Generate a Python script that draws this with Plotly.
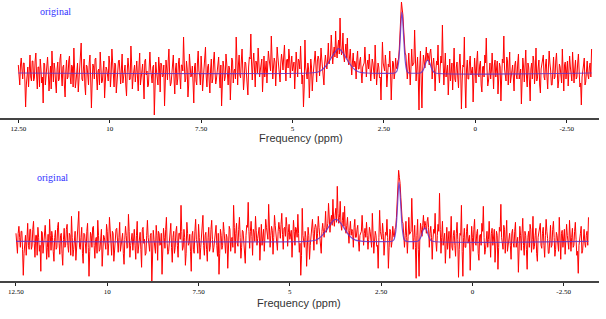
import plotly.graph_objects as go

# ---- data (values in display units) ----
ppm_start = 12.5
ppm_step = 0.02

spectrum = [
    8, -6, -12, 8, 15, 4, -6, 10, 10, -8, -34, -12, 5, 6, -14, 2, 18, -4, -8, 12,
    12, -8, -5, 12, 20, -2, -16, 6, 6, -14, 14, 4, -10, -4, -30, 10, 9, -12, -3, 8,
    16, 2, -18, -6, 7, -16, 22, 6, -9, 10, 4, -10, -20, 4, 11, -8, -6, 14, 19, -2,
    -13, 6, 8, -12, -24, 2, 13, -6, -4, 12, 17, -4, -11, 8, 6, -14, 25, 4, -15, -8,
    3, 10, -19, -4, 10, 12, 30, -6, -8, 4, 14, -12, -22, 8, 7, -2, -12, 10, 18, -6,
    -35, -10, 9, 6, -6, 14, 15, -4, -17, 2, 4, -12, 21, 6, -10, -8, 12, 12, -25, -2,
    6, 4, -8, -8, 17, 10, -14, -2, 24, 6, -5, -14, 10, 8, -20, -4, 3, 12, 13, -6,
    -11, 4, 19, -10, -3, 8, 8, -12, -23, 2, 15, 6, -7, -6, 27, 10, -16, -4, 5, 8,
    -9, 10, 12, -4, -18, 6, 20, -12, -4, 4, 9, -8, -26, 12, 14, -2, 2, -14, -12, 6,
    21, 4, -10, -10, 6, 8, -42, -6, 11, 2, -5, -12, 16, 6, -19, 10, 8, -4, -3, 8,
    -33, -8, 13, 4, -7, 12, 24, -2, -13, -10, 4, 6, 18, -6, -21, 4, 10, -12, -6, 10,
    15, -4, -16, 8, 8, 2, 36, 10, -9, -6, 12, 4, -24, -12, 19, 8, -4, -2, 7, -10,
    -30, 6, 10, -8, -12, 10, 22, 2, -2, -12, 17, 4, -18, -6, 6, 10, 26, -4, -14, 6,
    9, -8, -20, 4, 14, -10, -6, 12, 21, 2, -11, -6, 3, 10, 16, -4, -15, 8, -33, -12,
    12, 6, -8, -4, 19, 10, -3, -12, 7, 4, -27, -8, 15, 12, -10, 2, 4, -6, 36, 14,
    -12, 8, 18, -2, -5, 12, 24, 4, -17, -6, 11, 10, 2, -8, -22, 6, 16, 14, 39, 10,
    -7, 10, 20, 5, -14, 12, 9, 0, 25, 11, -4, 3, 13, 14, -19, 6, 17, -4, 6, 12,
    -10, 8, 22, 14, 4, 2, 37, 15, -6, 6, 15, 11, -13, 4, 26, 16, 8, 0, -9, 10,
    19, 12, 3, 17, 28, 7, -8, 13, 14, 5, 24, 15, -5, 9, 17, 2, 9, 11, -16, 6,
    21, 10, -4, 14, 12, 4, 27, 8, -11, -2, -34, -14, 33, 6, -6, -6, 10, 4, -25, -10,
    14, 6, -18, -4, 8, 10, 22, 8, -9, 12, 17, 14, -3, 8, 25, 14, 6, 4, -12, 10,
    18, 10, 4, 14, 30, 9, 12, 18, 38, 13, 9, 20, 26, 16, 42, 22, 15, 26, 33, 19,
    55, 28, 18, 24, 40, 17, 11, 21, 29, 15, 35, 12, 8, 16, 24, 9, -2, 11, 20, 6,
    12, 10, -6, 14, 22, 4, 4, 12, 16, 0, -10, 6, 9, 10, 26, 2, -4, 8, 13, 4,
    19, 6, -8, 2, 14, 10, 3, -6, 28, 8, -12, 0, 10, 6, -5, -4, -27, 4, 31, 10,
    6, 2, 18, 8, -14, -4, 9, 6, 22, 4, -27, -6, 12, 10, -6, 0, 15, 6, 4, 12,
    14, 24, 38, 55, 71, 64, 58, 44, 30, 20, 18, 8, -6, 6, 20, 4, -12, 5, 24, 7,
    10, 10, 43, 16, -8, 4, 16, -6, -37, 6, 22, -8, -35, 2, 18, 12, 5, 16, 26, 12,
    20, 16, 8, 20, 24, 14, -6, 8, 15, 4, -18, 2, 12, 8, 28, 0, -10, 6, 17, 10,
    48, 12, -12, 4, 20, -4, 6, 8, -22, 0, 14, -8, 3, 10, -17, 2, 25, -6, -9, 6,
    11, -4, -15, 8, 19, 2, -36, -8, 8, 6, 36, -10, -35, 4, 13, -6, -6, 10, 17, -2,
    4, 6, -29, -10, 15, 4, -10, 12, 22, -2, -4, 8, 12, -12, -19, 6, 7, -4, 18, 10,
    35, 4, -13, -8, 9, 10, -6, 2, 20, -6, -16, 8, 13, -4, 2, 12, -21, -10, 10, 6,
    -28, -6, 14, 10, 37, 4, -8, -8, 16, 12, -12, 2, 21, -10, -3, 6, 8, -4, -18, 8,
    12, -2, -6, 10, 19, -6, 4, 4, -31, -12, 15, 6, -9, 8, 23, -4, -14, 10, 6, -8,
    -28, 4, 10, -6, 17, 12, -11, 2, 25, -8, -5, 6, 13, -12, -20, 4, 8, 10, 18, -4,
    -7, 8, 14, -4, -16, 6, 22, 10, 3, -12, -12, 2, 16, -6, -4, 12, 20, 4, -15, -8,
    9, 6, -8, -10, 24, 4, -18, 8, 11, -6, 5, 12, -13, -2, 17, 6, -6, -8, 21, 10,
    -10, 4, 13, -6, -4, 10, 19, 2, -14, -10, -32, -4, 8, 8, 15, -12, -9, 6, 12, -2,
    -6, 6, 10, -4, 24,
]

fit_ppm = [12.5, 4.5, 4.3, 4.2, 4.1, 4.0, 3.9, 3.8, 3.75, 3.7, 3.6, 3.5, 3.4, 3.3, 3.2, 3.1, 3.0,
           2.2, 2.15, 2.1, 2.06, 2.03, 2.01, 1.99, 1.96, 1.92, 1.88, 1.84, 1.8,
           1.5, 1.45, 1.4, 1.35, 1.3, 1.25, 1.2, 1.15, 1.1, -3.18]
fit_top = [0, 0, 1, 3, 6.5, 11.5, 17.5, 22.5, 24.4, 23.5, 19, 13, 7.5, 3.5, 1.3, 0.4, 0,
           0, 1.5, 10, 30, 52, 61, 55, 36, 13, 3, 0.5, 0,
           0, 1.5, 5, 10.5, 13, 10.5, 5, 1.5, 0, 0]
fit_bottom = [0, 0, 1, 3, 6.5, 11, 16.5, 21, 22, 21.5, 18, 12.5, 7, 3.3, 1.2, 0.4, 0,
              0, 1.5, 9.5, 29, 50, 59, 53, 35, 12.5, 3, 0.5, 0,
              0, 1.5, 5.2, 11, 13.5, 11, 5.2, 1.5, 0, 0]

tick_vals = [12.5, 10, 7.5, 5, 2.5, 0, -2.5]
tick_text = ["12.50", "10", "7.50", "5", "2.50", "0", "-2.50"]

ppm = [ppm_start - ppm_step * i for i in range(len(spectrum))]

W, H = 606, 319
fig = go.Figure()

for k, fit in enumerate([fit_top, fit_bottom]):
    xa = "x" if k == 0 else "x2"
    ya = "y" if k == 0 else "y2"
    fig.add_trace(go.Scatter(x=ppm, y=spectrum, mode="lines", xaxis=xa, yaxis=ya,
                             line=dict(color="#ff0000", width=1), hoverinfo="skip",
                             showlegend=False))
    fig.add_trace(go.Scatter(x=fit_ppm, y=fit, mode="lines", xaxis=xa, yaxis=ya,
                             line=dict(color="rgba(100,50,200,0.85)", width=1.2, shape="spline",
                                       smoothing=0.6),
                             hoverinfo="skip", showlegend=False))

axis_common = dict(
    showline=True, linecolor="#444444", linewidth=2, mirror=False,
    ticks="outside", ticklen=3, tickwidth=1, tickcolor="#222222",
    tickvals=tick_vals, ticktext=tick_text, showgrid=False, zeroline=False,
    tickfont=dict(family="Liberation Serif", size=7, color="#000000"),
)

fig.update_layout(
    width=W, height=H, margin=dict(l=0, r=0, t=0, b=0),
    paper_bgcolor="white", plot_bgcolor="white",
    xaxis=dict(domain=[0, 599 / W], range=[13.0005, -3.383], anchor="y", **axis_common),
    yaxis=dict(domain=[(H - 118) / H, 1.0], range=[-45, 73], visible=False),
    xaxis2=dict(domain=[0, 599 / W], range=[12.938, -3.468], anchor="y2", **axis_common),
    yaxis2=dict(domain=[(H - 281) / H, (H - 150) / H], range=[-39.7, 91.3], visible=False),
    annotations=[
        dict(text="original", x=55 / W, y=(H - 12) / H, xref="paper", yref="paper",
             xanchor="center", yanchor="middle", showarrow=False,
             font=dict(family="Liberation Serif", size=10, color="#3333ff")),
        dict(text="original", x=52 / W, y=(H - 177) / H, xref="paper", yref="paper",
             xanchor="center", yanchor="middle", showarrow=False,
             font=dict(family="Liberation Serif", size=10, color="#3333ff")),
        dict(text="Frequency (ppm)", x=301 / W, y=(H - 138) / H, xref="paper", yref="paper",
             xanchor="center", yanchor="middle", showarrow=False,
             font=dict(family="Liberation Sans", size=11, color="#333333")),
        dict(text="Frequency (ppm)", x=299 / W, y=(H - 303) / H, xref="paper", yref="paper",
             xanchor="center", yanchor="middle", showarrow=False,
             font=dict(family="Liberation Sans", size=11, color="#333333")),
    ],
)

fig.write_html("out.html", config={"displayModeBar": False},
               post_script="document.body.style.margin='0';document.body.style.padding='0';")
